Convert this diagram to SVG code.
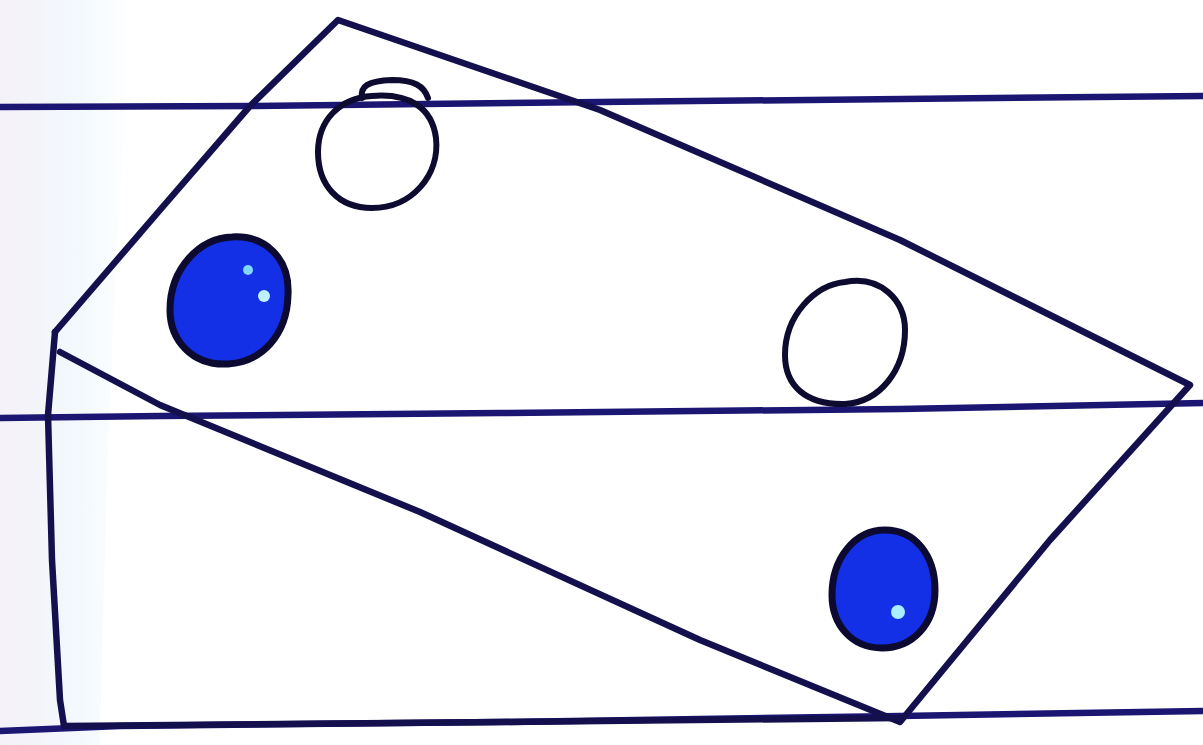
<svg xmlns="http://www.w3.org/2000/svg" width="1203" height="745" viewBox="0 0 1203 745">
<defs>
<style>
.ln{fill:none;stroke:#14104e;stroke-width:6.5;stroke-linecap:round;stroke-linejoin:round}
.rl{fill:none;stroke:#1a1672;stroke-width:6.5;stroke-linecap:round}
.open{fill:none;stroke:#0e0b30;stroke-width:6;stroke-linecap:round}
.dot{fill:#1330e6;stroke:#0c0a30;stroke-width:7}
</style>
<linearGradient id="bg" x1="0" y1="0" x2="1" y2="0">
<stop offset="0" stop-color="#f1ecf6"/>
<stop offset="0.55" stop-color="#eef6fc"/>
<stop offset="1" stop-color="#ffffff"/>
</linearGradient>
</defs>
<rect width="1203" height="745" fill="#ffffff"/>
<path d="M0 0 H135 C122 150 110 300 100 745 H0 Z" fill="url(#bg)" opacity="0.75"/>
<g id="ruled-lines">
<path class="rl" d="M0 107 L250 106 L600 102 L1203 96"/>
<path class="rl" d="M0 418 L160 416 L500 413 L900 409 L1203 403"/>
<path class="rl" d="M0 731 L120 726 L500 722 L900 716 L1203 711"/>
</g>
<g id="shape">
<path class="ln" d="M55 332 L160 210 L250 106 L338 20 L600 110 L900 240 L1190 385 L1050 540 L900 722 L700 640 L420 512 L160 405 L60 352"/>
<path class="ln" d="M55 332 L48 415 L52 560 L60 700 L64 726"/>
<path class="ln" d="M64 726 L500 722 L900 718"/>
</g>
<g id="circles">
<path class="open" d="M362 98 C360 86 368 81 392 80 C414 80 424 86 428 98"/>
<path class="open" d="M372 96 C410 93 432 108 436 138 C440 175 412 208 372 208 C338 208 318 185 318 152 C318 120 340 98 372 96 Z"/>
<path class="open" d="M845 282 C880 275 905 300 905 330 C905 370 880 402 845 404 C805 405 785 385 785 355 C785 315 815 285 845 282 Z"/>
<path class="dot" d="M232 237 C265 235 290 258 288 295 C287 335 262 362 228 364 C192 366 170 340 170 310 C170 268 200 238 232 237 Z"/>
<circle cx="248" cy="270" r="5" fill="#7fd8ff"/>
<circle cx="264" cy="296" r="6" fill="#bff0ff"/>
<path class="dot" d="M885 530 C915 530 935 555 935 590 C935 625 912 648 882 648 C852 648 832 625 832 595 C832 558 855 530 885 530 Z"/>
<circle cx="898" cy="612" r="7" fill="#aaeeff"/>
</g>
</svg>
